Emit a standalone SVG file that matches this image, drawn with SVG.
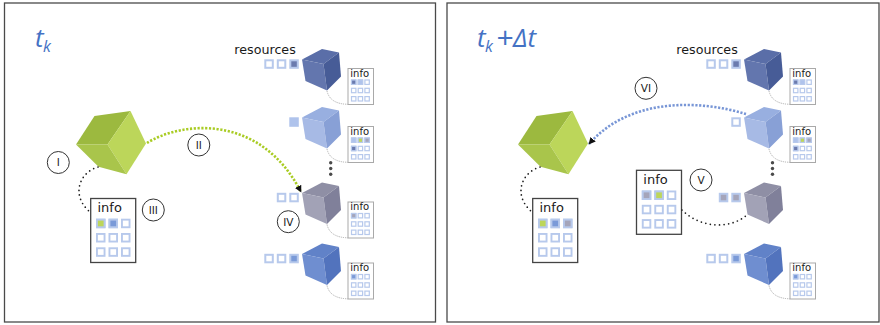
<svg xmlns="http://www.w3.org/2000/svg" xmlns:xlink="http://www.w3.org/1999/xlink" width="880" height="325" viewBox="0 0 880 325">
  <style>
    .frame { fill: #fff; stroke: #4a4a4a; stroke-width: 1.3; }
    .title { font-family: "Open Sans", "DejaVu Sans", sans-serif; font-style: italic; fill: #4472c4; }
    .txt { font-family: "DejaVu Sans", sans-serif; fill: #1a1a1a; }
    .res { font-size: 12.7px; }
    .mi { font-size: 10px; }
    .bi { font-size: 13px; }
    .num { font-size: 10.5px; text-anchor: middle; }
    .mini { fill: #fff; stroke: #a9a9a9; stroke-width: 1; }
    .big { fill: #fff; stroke: #444; stroke-width: 1.3; }
    .sq { fill: #fff; stroke: #b7c9ec; }
    .msq { stroke-width: 1.2; }
    .bsq { stroke-width: 1.9; }
    .slot { fill: #fff; stroke: #b7c9ec; stroke-width: 2; }
    .f-dark { fill: #6b7bae; }
    .f-light { fill: #afc3ec; }
    .f-green { fill: #bdd65a; }
    .f-gray { fill: #a5a5ba; }
    .f-mid { fill: #7a9ad8; }
    .link { fill: none; stroke: #9a9a9a; stroke-width: 0.8; stroke-dasharray: 1.2 1; }
    .dots { fill: none; stroke: #1e1e1e; stroke-width: 1.7; stroke-linecap: round; stroke-dasharray: 0 4.6; }
    .green-flow { fill: none; stroke: #a9cc24; stroke-width: 2.6; stroke-dasharray: 2.2 1.6; }
    .blue-flow { fill: none; stroke: #7896d6; stroke-width: 2.6; stroke-dasharray: 2.2 1.6; }
    .tag { fill: #fff; stroke: #333; stroke-width: 1; }
    .ell { fill: #4a4a4a; }
  </style>
  <defs>
    <marker id="arrow" viewBox="0 0 10 10" refX="9" refY="5" markerWidth="7" markerHeight="7" markerUnits="userSpaceOnUse" orient="auto">
      <path d="M0,0 L10,5 L0,10 z" fill="#111"/>
    </marker>
    <!-- 3x3 slot grid of a small info card, origin at card corner -->
    <g id="miniGrid" class="sq msq">
      <rect x="3.5" y="11.5" width="4.4" height="4.4"/>
      <rect x="10.2" y="11.5" width="4.4" height="4.4"/>
      <rect x="16.9" y="11.5" width="4.4" height="4.4"/>
      <rect x="3.5" y="19.8" width="4.4" height="4.4"/>
      <rect x="10.2" y="19.8" width="4.4" height="4.4"/>
      <rect x="16.9" y="19.8" width="4.4" height="4.4"/>
      <rect x="3.5" y="28.1" width="4.4" height="4.4"/>
      <rect x="10.2" y="28.1" width="4.4" height="4.4"/>
      <rect x="16.9" y="28.1" width="4.4" height="4.4"/>
    </g>
    <!-- 3x3 slot grid of a large info card -->
    <g id="bigGrid" class="sq bsq">
      <rect x="6.25" y="21.15" width="7.6" height="7.6"/>
      <rect x="18.75" y="21.15" width="7.6" height="7.6"/>
      <rect x="31.25" y="21.15" width="7.6" height="7.6"/>
      <rect x="6.25" y="35.45" width="7.6" height="7.6"/>
      <rect x="18.75" y="35.45" width="7.6" height="7.6"/>
      <rect x="31.25" y="35.45" width="7.6" height="7.6"/>
      <rect x="6.25" y="49.75" width="7.6" height="7.6"/>
      <rect x="18.75" y="49.75" width="7.6" height="7.6"/>
      <rect x="31.25" y="49.75" width="7.6" height="7.6"/>
    </g>
  </defs>

  <!-- ===== panel frames ===== -->
  <rect class="frame" x="4.5" y="3" width="431" height="319"/>
  <rect class="frame" x="447" y="3" width="432" height="319"/>

  <!-- ===================== state at t_k ===================== -->
  <g id="panel-tk">
    <g id="title-tk">
      <text class="title" x="35" y="47" font-size="26">t</text>
      <text class="title" x="43" y="52" font-size="16">k</text>
    </g>

    <text class="txt res" x="234.3" y="53.5">resources</text>

    <g id="agent">
      <polygon points="76,144.5 94.5,116 130.5,111 107.5,144.5" fill="#9cb93f"/>
      <polygon points="130.5,111 146,143.5 126.5,174.3 107.5,144.5" fill="#bcd65a"/>
      <polygon points="76,144.5 107.5,144.5 126.5,174.3 98.5,166.7" fill="#a9c54b"/>
    </g>

    <g id="agent-info">
      <rect class="big" x="90.7" y="198.5" width="45" height="64"/>
      <text class="txt bi" x="97.5" y="211.7">info</text>
      <use xlink:href="#bigGrid" x="90.7" y="198.5"/>
      <rect class="sq bsq f-green" x="96.95" y="219.65" width="7.6" height="7.6"/>
      <rect class="sq bsq f-mid" x="109.45" y="219.65" width="7.6" height="7.6"/>
    </g>

    <g id="resource-1">
      <polygon points="302,59.5 322,49 339,52.5 323.5,64" fill="#5a6ea8"/>
      <polygon points="302,59.5 323.5,64 327,90.5 305.5,81" fill="#6376ae"/>
      <polygon points="323.5,64 339,52.5 341,76.5 327,90.5" fill="#475c97"/>
      <rect class="slot" x="265.3" y="60.3" width="7.5" height="7.5"/>
      <rect class="slot" x="277.8" y="60.3" width="7.5" height="7.5"/>
      <rect class="slot f-dark" x="290.3" y="60.3" width="7.5" height="7.5"/>
      <path class="link" d="M327,91 Q330,104 348,104.3"/>
      <rect class="mini" x="348" y="68.5" width="25.5" height="36"/>
      <text class="txt mi" x="350.3" y="76.8">info</text>
      <use xlink:href="#miniGrid" x="348" y="68.5"/>
      <rect class="sq msq f-dark" x="351.5" y="80" width="4.4" height="4.4"/>
      <rect class="sq msq f-light" x="358.2" y="80" width="4.4" height="4.4"/>
    </g>

    <g id="resource-2" transform="translate(0,58)">
      <polygon points="302,59.5 322,49 339,52.5 323.5,64" fill="#98afe0"/>
      <polygon points="302,59.5 323.5,64 327,90.5 305.5,81" fill="#a7bae5"/>
      <polygon points="323.5,64 339,52.5 341,76.5 327,90.5" fill="#88a0d6"/>
      <rect class="slot f-light" x="290.3" y="60.3" width="7.5" height="7.5" style="stroke:#afc3ec"/>
      <path class="link" d="M327,91 Q330,104 348,104.3"/>
      <rect class="mini" x="348" y="68.5" width="25.5" height="36"/>
      <text class="txt mi" x="350.3" y="76.8">info</text>
      <use xlink:href="#miniGrid" x="348" y="68.5"/>
      <rect class="sq msq f-light" x="351.5" y="80" width="4.4" height="4.4"/>
      <rect class="sq msq f-green" x="358.2" y="80" width="4.4" height="4.4"/>
      <rect class="sq msq f-gray" x="364.9" y="80" width="4.4" height="4.4"/>
      <rect class="sq msq f-dark" x="351.5" y="88.3" width="4.4" height="4.4"/>
    </g>

    <g id="ellipsis">
      <circle class="ell" cx="330.7" cy="162.7" r="1.7"/>
      <circle class="ell" cx="330.7" cy="168.5" r="1.7"/>
      <circle class="ell" cx="330.7" cy="174.3" r="1.7"/>
    </g>

    <g id="resource-3" transform="translate(0,133.5)">
      <polygon points="302,59.5 322,49 339,52.5 323.5,64" fill="#8f8fa5"/>
      <polygon points="302,59.5 323.5,64 327,90.5 305.5,81" fill="#a2a2b6"/>
      <polygon points="323.5,64 339,52.5 341,76.5 327,90.5" fill="#80809a"/>
      <rect class="slot" x="277.8" y="60.3" width="7.5" height="7.5"/>
      <rect class="slot" x="290.3" y="60.3" width="7.5" height="7.5"/>
      <path class="link" d="M327,91 Q330,104 348,104.3"/>
      <rect class="mini" x="348" y="68.5" width="25.5" height="36"/>
      <text class="txt mi" x="350.3" y="76.8">info</text>
      <use xlink:href="#miniGrid" x="348" y="68.5"/>
      <rect class="sq msq f-gray" x="351.5" y="80" width="4.4" height="4.4"/>
    </g>

    <g id="resource-4" transform="translate(0,194.5)">
      <polygon points="302,59.5 322,49 339,52.5 323.5,64" fill="#6182c8"/>
      <polygon points="302,59.5 323.5,64 327,90.5 305.5,81" fill="#6f8ed0"/>
      <polygon points="323.5,64 339,52.5 341,76.5 327,90.5" fill="#5273bd"/>
      <rect class="slot" x="265.3" y="60.3" width="7.5" height="7.5"/>
      <rect class="slot" x="277.8" y="60.3" width="7.5" height="7.5"/>
      <rect class="slot f-mid" x="290.3" y="60.3" width="7.5" height="7.5"/>
      <path class="link" d="M327,91 Q330,104 348,104.3"/>
      <rect class="mini" x="348" y="68.5" width="25.5" height="36"/>
      <text class="txt mi" x="350.3" y="76.8">info</text>
      <use xlink:href="#miniGrid" x="348" y="68.5"/>
      <rect class="sq msq f-mid" x="351.5" y="80" width="4.4" height="4.4"/>
    </g>

    <g id="connectors-tk">
      <path class="dots" d="M98,167 C80,172 70,195 90,212"/>
      <path class="green-flow" d="M147,143 C180,122 260,112 301,192" marker-end="url(#arrow)"/>
    </g>

    <g id="steps-tk">
      <circle class="tag" cx="58.3" cy="162.5" r="11"/>
      <text class="txt num" x="58.3" y="166.3">I</text>
      <circle class="tag" cx="198.8" cy="145" r="11"/>
      <text class="txt num" x="198.8" y="148.8">II</text>
      <circle class="tag" cx="153.3" cy="210" r="11"/>
      <text class="txt num" x="153.3" y="213.8">III</text>
      <circle class="tag" cx="288.3" cy="221.7" r="11"/>
      <text class="txt num" x="288.3" y="225.5">IV</text>
    </g>
  </g>

  <!-- ===================== state at t_k + Δt ===================== -->
  <g id="panel-tk-dt" transform="translate(442,0)">
    <g id="title-tk-dt">
      <text class="title" x="35" y="47" font-size="26">t</text>
      <text class="title" x="43" y="52" font-size="16">k</text>
      <text class="title" x="54" y="48" font-size="30">+</text>
      <text class="title" x="71" y="47" font-size="26">Δt</text>
    </g>

    <text class="txt res" x="234.3" y="53.5">resources</text>

    <g id="agent-dt">
      <polygon points="76,144.5 94.5,116 130.5,111 107.5,144.5" fill="#9cb93f"/>
      <polygon points="130.5,111 146,143.5 126.5,174.3 107.5,144.5" fill="#bcd65a"/>
      <polygon points="76,144.5 107.5,144.5 126.5,174.3 98.5,166.7" fill="#a9c54b"/>
    </g>

    <g id="agent-info-dt">
      <rect class="big" x="90.7" y="198.5" width="45" height="64"/>
      <text class="txt bi" x="97.5" y="211.7">info</text>
      <use xlink:href="#bigGrid" x="90.7" y="198.5"/>
      <rect class="sq bsq f-green" x="96.95" y="219.65" width="7.6" height="7.6"/>
      <rect class="sq bsq f-mid" x="109.45" y="219.65" width="7.6" height="7.6"/>
      <rect class="sq bsq f-gray" x="121.95" y="219.65" width="7.6" height="7.6"/>
    </g>

    <g id="resource-3-info-dt">
      <rect class="big" x="194.5" y="170.3" width="45" height="64"/>
      <text class="txt bi" x="201.3" y="183.5">info</text>
      <use xlink:href="#bigGrid" x="194.5" y="170.3"/>
      <rect class="sq bsq f-gray" x="200.75" y="191.45" width="7.6" height="7.6"/>
      <rect class="sq bsq f-green" x="213.25" y="191.45" width="7.6" height="7.6"/>
    </g>

    <g id="resource-1-dt">
      <polygon points="302,59.5 322,49 339,52.5 323.5,64" fill="#5a6ea8"/>
      <polygon points="302,59.5 323.5,64 327,90.5 305.5,81" fill="#6376ae"/>
      <polygon points="323.5,64 339,52.5 341,76.5 327,90.5" fill="#475c97"/>
      <rect class="slot" x="265.3" y="60.3" width="7.5" height="7.5"/>
      <rect class="slot" x="277.8" y="60.3" width="7.5" height="7.5"/>
      <rect class="slot f-dark" x="290.3" y="60.3" width="7.5" height="7.5"/>
      <path class="link" d="M327,91 Q330,104 348,104.3"/>
      <rect class="mini" x="348" y="68.5" width="25.5" height="36"/>
      <text class="txt mi" x="350.3" y="76.8">info</text>
      <use xlink:href="#miniGrid" x="348" y="68.5"/>
      <rect class="sq msq f-dark" x="351.5" y="80" width="4.4" height="4.4"/>
      <rect class="sq msq f-light" x="358.2" y="80" width="4.4" height="4.4"/>
    </g>

    <g id="resource-2-dt" transform="translate(0,58)">
      <polygon points="302,59.5 322,49 339,52.5 323.5,64" fill="#98afe0"/>
      <polygon points="302,59.5 323.5,64 327,90.5 305.5,81" fill="#a7bae5"/>
      <polygon points="323.5,64 339,52.5 341,76.5 327,90.5" fill="#88a0d6"/>
      <rect class="slot" x="290.3" y="60.3" width="7.5" height="7.5"/>
      <path class="link" d="M327,91 Q330,104 348,104.3"/>
      <rect class="mini" x="348" y="68.5" width="25.5" height="36"/>
      <text class="txt mi" x="350.3" y="76.8">info</text>
      <use xlink:href="#miniGrid" x="348" y="68.5"/>
      <rect class="sq msq f-light" x="351.5" y="80" width="4.4" height="4.4"/>
      <rect class="sq msq f-green" x="358.2" y="80" width="4.4" height="4.4"/>
      <rect class="sq msq f-gray" x="364.9" y="80" width="4.4" height="4.4"/>
      <rect class="sq msq f-dark" x="351.5" y="88.3" width="4.4" height="4.4"/>
    </g>

    <g id="ellipsis-dt">
      <circle class="ell" cx="330.5" cy="162.7" r="1.7"/>
      <circle class="ell" cx="330.5" cy="168.5" r="1.7"/>
      <circle class="ell" cx="330.5" cy="174.3" r="1.7"/>
    </g>

    <g id="resource-3-dt" transform="translate(0,133.5)">
      <polygon points="302,59.5 322,49 339,52.5 323.5,64" fill="#8f8fa5"/>
      <polygon points="302,59.5 323.5,64 327,90.5 305.5,81" fill="#a2a2b6"/>
      <polygon points="323.5,64 339,52.5 341,76.5 327,90.5" fill="#80809a"/>
      <rect class="slot f-gray" x="277.8" y="60.3" width="7.5" height="7.5"/>
      <rect class="slot f-gray" x="290.3" y="60.3" width="7.5" height="7.5"/>
    </g>

    <g id="resource-4-dt" transform="translate(0,194.5)">
      <polygon points="302,59.5 322,49 339,52.5 323.5,64" fill="#6182c8"/>
      <polygon points="302,59.5 323.5,64 327,90.5 305.5,81" fill="#6f8ed0"/>
      <polygon points="323.5,64 339,52.5 341,76.5 327,90.5" fill="#5273bd"/>
      <rect class="slot" x="265.3" y="60.3" width="7.5" height="7.5"/>
      <rect class="slot" x="277.8" y="60.3" width="7.5" height="7.5"/>
      <rect class="slot f-mid" x="290.3" y="60.3" width="7.5" height="7.5"/>
      <path class="link" d="M327,91 Q330,104 348,104.3"/>
      <rect class="mini" x="348" y="68.5" width="25.5" height="36"/>
      <text class="txt mi" x="350.3" y="76.8">info</text>
      <use xlink:href="#miniGrid" x="348" y="68.5"/>
      <rect class="sq msq f-mid" x="351.5" y="80" width="4.4" height="4.4"/>
    </g>

    <g id="connectors-tk-dt">
      <path class="dots" d="M98,167 C80,172 70,195 90,212"/>
      <path class="dots" d="M240,210 C258,228 288,230 305.5,214.5"/>
      <path class="blue-flow" d="M304,114 C258,100 188,97 147,144" marker-end="url(#arrow)"/>
    </g>

    <g id="steps-tk-dt">
      <circle class="tag" cx="204" cy="88.3" r="11"/>
      <text class="txt num" x="204" y="92.1">VI</text>
      <circle class="tag" cx="259" cy="180" r="11"/>
      <text class="txt num" x="259" y="183.8">V</text>
    </g>
  </g>
</svg>
